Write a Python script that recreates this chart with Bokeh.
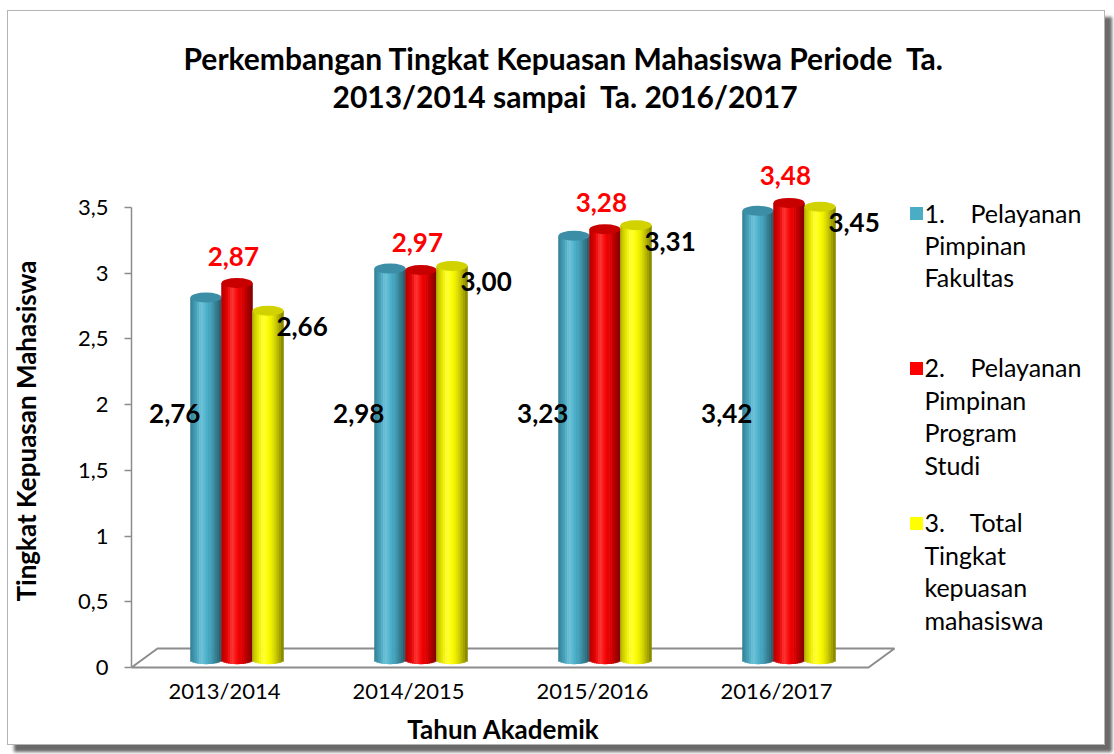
import numpy as np
from bokeh.plotting import figure
from bokeh.models import Range1d, FixedTicker, CustomJSTickFormatter, Title
from bokeh.core.properties import value
from bokeh.embed import file_html
from bokeh.resources import INLINE

# ---------------- data ----------------
years = ["2013/2014", "2014/2015", "2015/2016", "2016/2017"]
NB = "\u00a0"
legend_labels = [
    "1." + NB * 4 + "Pelayanan\nPimpinan\nFakultas",
    "2." + NB * 4 + "Pelayanan\nPimpinan\nProgram\nStudi",
    "3." + NB * 4 + "Total\nTingkat\nkepuasan\nmahasiswa",
]
fakultas = [2.76, 2.98, 3.23, 3.42]
prodi = [2.87, 2.97, 3.28, 3.48]
total = [2.66, 3.00, 3.31, 3.45]
y_ticks = [0, 0.5, 1, 1.5, 2, 2.5, 3, 3.5]
title_lines = ["Perkembangan Tingkat Kepuasan Mahasiswa Periode" + NB + " Ta.",
               "2013/2014 sampai" + NB + " Ta. 2016/2017"]
y_title = "Tingkat Kepuasan Mahasiswa"
x_title = "Tahun Akademik"

# ---------------- style ----------------
FONT = "Lato"
base_colors = [(75, 178, 205), (250, 0, 0), (255, 255, 0)]
legend_colors = ["#4BACC6", "#FF0000", "#FFFF00"]
top_colors = ["#3B8EA6", "#C80000", "#D2D200"]
label_colors = ["black", "red", "black"]
AXIS_GREY = "#8c8c8c"

BAR_W = 0.1685       # width of one cylinder (data units)
GROUP_SHIFT = 0.068  # perspective shift of the bar group
LIFT = 0.055         # perspective lift of the bars
BOTTOM_CURVE = 0.03
N_STRIPS = 14
AXIS_X = -0.5054     # where the value axis stands (left edge of the floor)

p = figure(width=1098, height=735, output_backend="svg", toolbar_location=None,
           x_range=Range1d(-1.1739, 4.7935), y_range=Range1d(-0.6011, 4.2152),
           min_border_left=0, min_border_right=0, min_border_top=102,
           min_border_bottom=0)
p.styles = {"margin-left": "7px", "margin-top": "10px",
            "border": "1px solid #b4b4b4",
            "box-shadow": "7px 7px 3px #6a6a6a"}
p.background_fill_color = "white"
p.border_fill_color = "white"
p.outline_line_color = None
p.grid.grid_line_color = None

# titles (second line nearer the frame)
p.add_layout(Title(text=title_lines[1], align="left", offset=324, standoff=0,
                   text_font=FONT, text_font_size="30px", text_font_style="bold",
                   text_color="black"), "above")
p.add_layout(Title(text=title_lines[0], align="left", offset=175, standoff=0,
                   text_font=FONT, text_font_size="30px", text_font_style="bold",
                   text_color="black"), "above")

# y axis (inside the frame, at the floor's left edge)
yax = p.yaxis[0]
yax.fixed_location = AXIS_X
yax.ticker = FixedTicker(ticks=y_ticks)
yax.formatter = CustomJSTickFormatter(code="return tick.toString().replace('.', ',')")
yax.bounds = (y_ticks[0], y_ticks[-1])
yax.axis_line_color = AXIS_GREY
yax.axis_line_width = 1.5
yax.major_tick_line_color = AXIS_GREY
yax.major_tick_line_width = 1.5
yax.major_tick_out = 7
yax.major_tick_in = 0
yax.minor_tick_line_color = None
yax.major_label_text_font = FONT
yax.major_label_text_font_size = "22px"
yax.major_label_text_color = "black"
yax.major_label_standoff = 16

# x axis (inside the frame, at value 0)
xax = p.xaxis[0]
xax.fixed_location = 0
xax.ticker = FixedTicker(ticks=list(range(len(years))))
xax.major_label_overrides = {i: y for i, y in enumerate(years)}
xax.axis_line_color = None
xax.major_tick_line_color = None
xax.minor_tick_line_color = None
xax.major_label_text_font = FONT
xax.major_label_text_font_size = "22px"
xax.major_label_text_color = "black"
xax.major_label_standoff = 4

# axis titles
p.text(x=[-1.08], y=[1.8], text=[y_title], angle=np.pi / 2,
       text_align="center", text_baseline="middle",
       text_font=value(FONT), text_font_size="26px", text_font_style="bold",
       text_color="black")
p.text(x=[1.516], y=[-0.47], text=[x_title],
       text_align="center", text_baseline="middle",
       text_font=value(FONT), text_font_size="26px", text_font_style="bold",
       text_color="black")

# 3D floor outline
fx1 = 3.5
fdx, fdy = 0.1413, 0.1446
p.line(x=[AXIS_X, fx1, fx1 + fdx, AXIS_X + fdx, AXIS_X], y=[0, 0, fdy, fdy, 0],
       line_color=AXIS_GREY, line_width=2)

# cylinders
series = [fakultas, prodi, total]
idx = np.arange(len(years))
offsets = [GROUP_SHIFT + (k - 1) * BAR_W for k in range(3)]


def shade(rgb, t):
    inten = 0.60 + 0.40 * np.cos((t - 0.42) * np.pi)
    spec = 0.18 * np.exp(-((t - 0.36) / 0.12) ** 2)
    out = []
    for c in rgb:
        v = c * inten
        v = v + (255 - v) * spec
        out.append(int(max(0, min(255, round(v)))))
    return "#%02x%02x%02x" % tuple(out)


for s, vals in enumerate(series):
    vals = np.array(vals)
    centers = idx + offsets[s]
    for k in range(N_STRIPS):
        t = (k + 0.5) / N_STRIPS
        u = 2 * t - 1
        p.vbar(x=centers + u * BAR_W / 2, width=BAR_W / N_STRIPS * 1.25,
               top=vals + LIFT,
               bottom=LIFT - BOTTOM_CURVE * np.sqrt(max(0.0, 1 - u * u)),
               fill_color=shade(base_colors[s], t), line_color=None)
    p.ellipse(x=centers, y=vals + LIFT, width=BAR_W, height=10,
              height_units="screen", fill_color=top_colors[s], line_color=None)

# data labels
fmt = lambda v: ("%.2f" % v).replace(".", ",")
lab_kw = dict(text_font=value(FONT), text_font_size="26px", text_font_style="bold",
              text_align="center", text_baseline="middle")
p.text(x=idx + offsets[0] - 0.17, y=[1.93] * len(years),
       text=[fmt(v) for v in fakultas], text_color=label_colors[0], **lab_kw)
p.text(x=idx + offsets[1] - 0.02, y=np.array(prodi) + 0.26,
       text=[fmt(v) for v in prodi], text_color=label_colors[1], **lab_kw)
p.text(x=idx + offsets[2] + 0.185, y=np.array(total) - 0.065,
       text=[fmt(v) for v in total], text_color=label_colors[2], **lab_kw)

# legend (right side)
leg_x = 3.761
leg_y = [3.454, 2.275, 1.096]
p.scatter(x=[leg_x] * 3, y=leg_y, marker="square", size=13,
          fill_color=legend_colors, line_color=None)
p.text(x=[leg_x + 0.043] * 3, y=[v + 0.122 for v in leg_y], text=legend_labels,
       text_font=value(FONT), text_font_size="25px", text_color="black",
       text_align="left", text_baseline="top", text_line_height=1.08)

open("out.html", "w").write(file_html(p, INLINE))
